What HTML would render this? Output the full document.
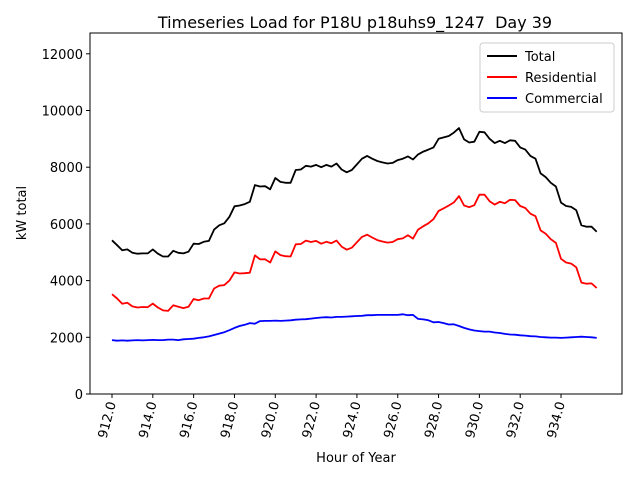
<!DOCTYPE html>
<html><head><meta charset="utf-8"><style>body{margin:0;background:#fff}svg{display:block;font-family:"DejaVu Sans","Liberation Sans",sans-serif}</style></head>
<body>
<svg id="chart" width="640" height="480" xmlns="http://www.w3.org/2000/svg">
<rect x="0" y="0" width="640" height="480" fill="#fff"/>
<text x="355" y="28" text-anchor="middle" font-size="16" xml:space="preserve" style="white-space:pre">Timeseries Load for P18U p18uhs9_1247  Day 39</text>
<text x="356" y="462" text-anchor="middle" font-size="13">Hour of Year</text>
<text transform="translate(26,213) rotate(-90)" text-anchor="middle" font-size="13">kW total</text>
<g id="grid"></g>
<g id="series"></g>
<rect x="90" y="33" width="532" height="361" fill="none" stroke="#000" stroke-width="1"/>
<g>
<rect x="480" y="43" width="134" height="69" fill="#fff" stroke="#ccc" rx="3"/>
<line x1="487" y1="56" x2="517" y2="56" stroke="#000" stroke-width="2"/>
<text x="525" y="61" font-size="13">Total</text>
<line x1="487" y1="77" x2="517" y2="77" stroke="#f00" stroke-width="2"/>
<text x="525" y="82" font-size="13">Residential</text>
<line x1="487" y1="98" x2="517" y2="98" stroke="#00f" stroke-width="2"/>
<text x="525" y="103" font-size="13">Commercial</text>
</g>
</svg>
<script>
const startHour = 912;
const stepHours = 0.25;
const total = [5420,5250,5070,5100,4980,4950,4960,4960,5100,4950,4850,4850,5050,4980,4960,5020,5300,5290,5370,5400,5800,5950,6020,6250,6620,6650,6700,6780,7370,7320,7330,7220,7620,7480,7450,7450,7900,7920,8050,8020,8080,8000,8080,8020,8130,7920,7820,7900,8100,8300,8400,8300,8220,8170,8130,8150,8250,8300,8380,8270,8450,8550,8620,8700,9000,9050,9100,9220,9380,8980,8870,8900,9250,9230,9000,8850,8930,8850,8950,8930,8700,8620,8400,8300,7780,7650,7450,7320,6750,6630,6600,6480,5950,5900,5900,5720];
const residential = [3520,3370,3180,3220,3090,3050,3070,3060,3190,3050,2950,2930,3130,3080,3030,3080,3350,3310,3370,3370,3720,3820,3840,4000,4290,4250,4260,4280,4890,4750,4750,4640,5030,4900,4860,4850,5280,5290,5410,5360,5400,5300,5370,5320,5410,5200,5090,5160,5350,5540,5620,5520,5430,5380,5340,5360,5460,5490,5600,5480,5800,5920,6020,6170,6460,6550,6650,6760,6980,6650,6590,6660,7030,7030,6800,6680,6780,6730,6850,6840,6630,6560,6360,6270,5770,5650,5460,5330,4770,4640,4600,4470,3930,3890,3900,3740];
const commercial = [1900,1880,1890,1880,1890,1900,1890,1900,1910,1900,1900,1920,1920,1900,1930,1940,1950,1980,2000,2030,2080,2130,2180,2250,2330,2400,2440,2500,2480,2570,2580,2580,2590,2580,2590,2600,2620,2630,2640,2660,2680,2700,2710,2700,2720,2720,2730,2740,2750,2760,2780,2780,2790,2790,2790,2790,2790,2810,2780,2790,2650,2630,2600,2530,2540,2500,2450,2460,2400,2330,2280,2240,2220,2200,2200,2170,2150,2120,2100,2090,2070,2060,2040,2030,2010,2000,1990,1990,1980,1990,2000,2010,2020,2010,2000,1980];
const yTicks = [0,2000,4000,6000,8000,10000,12000];
const xTicks = [912,914,916,918,920,922,924,926,928,930,932,934];
const xTickLabels = ["912.0","914.0","916.0","918.0","920.0","922.0","924.0","926.0","928.0","930.0","932.0","934.0"];

const NS = "http://www.w3.org/2000/svg";
const xPx = h => 112 + (h - 912) * 20.41;
const yPx = v => 394 - v * 56.7 / 2000;
const g = document.getElementById('grid');
function mk(tag, attrs, parent) {
  const e = document.createElementNS(NS, tag);
  for (const k in attrs) e.setAttribute(k, attrs[k]);
  parent.appendChild(e);
  return e;
}
yTicks.forEach(v => {
  const y = yPx(v);
  const t = mk('line', {x1: 86, x2: 90, y1: y, y2: y, stroke: '#000'}, g);
  
  
  const l = mk('text', {x: 83, y: y + 5, 'text-anchor': 'end', 'font-size': 13}, g);
  l.textContent = String(v);
  
  
});
xTicks.forEach((h, i) => {
  const x = xPx(h);
  const t = mk('line', {x1: x, x2: x, y1: 394, y2: 398, stroke: '#000'}, g);
  
  
  const l = mk('text', {transform: `translate(${x + 4},${403}) rotate(-75)`, 'text-anchor': 'end', 'font-size': 13}, g);
  l.textContent = xTickLabels[i];
  
  
});
const s = document.getElementById('series');
[[total, '#000', 'total-line'], [residential, '#f00', 'residential-line'], [commercial, '#00f', 'commercial-line']].forEach(([arr, col, name]) => {
  const pts = arr.map((v, i) => xPx(startHour + i * stepHours).toFixed(1) + ',' + yPx(v).toFixed(1)).join(' ');
  const p = mk('polyline', {points: pts, fill: 'none', stroke: col, 'stroke-width': 1.8, 'stroke-linejoin': 'round'}, s);
  
  
});
</script>
</body></html>
